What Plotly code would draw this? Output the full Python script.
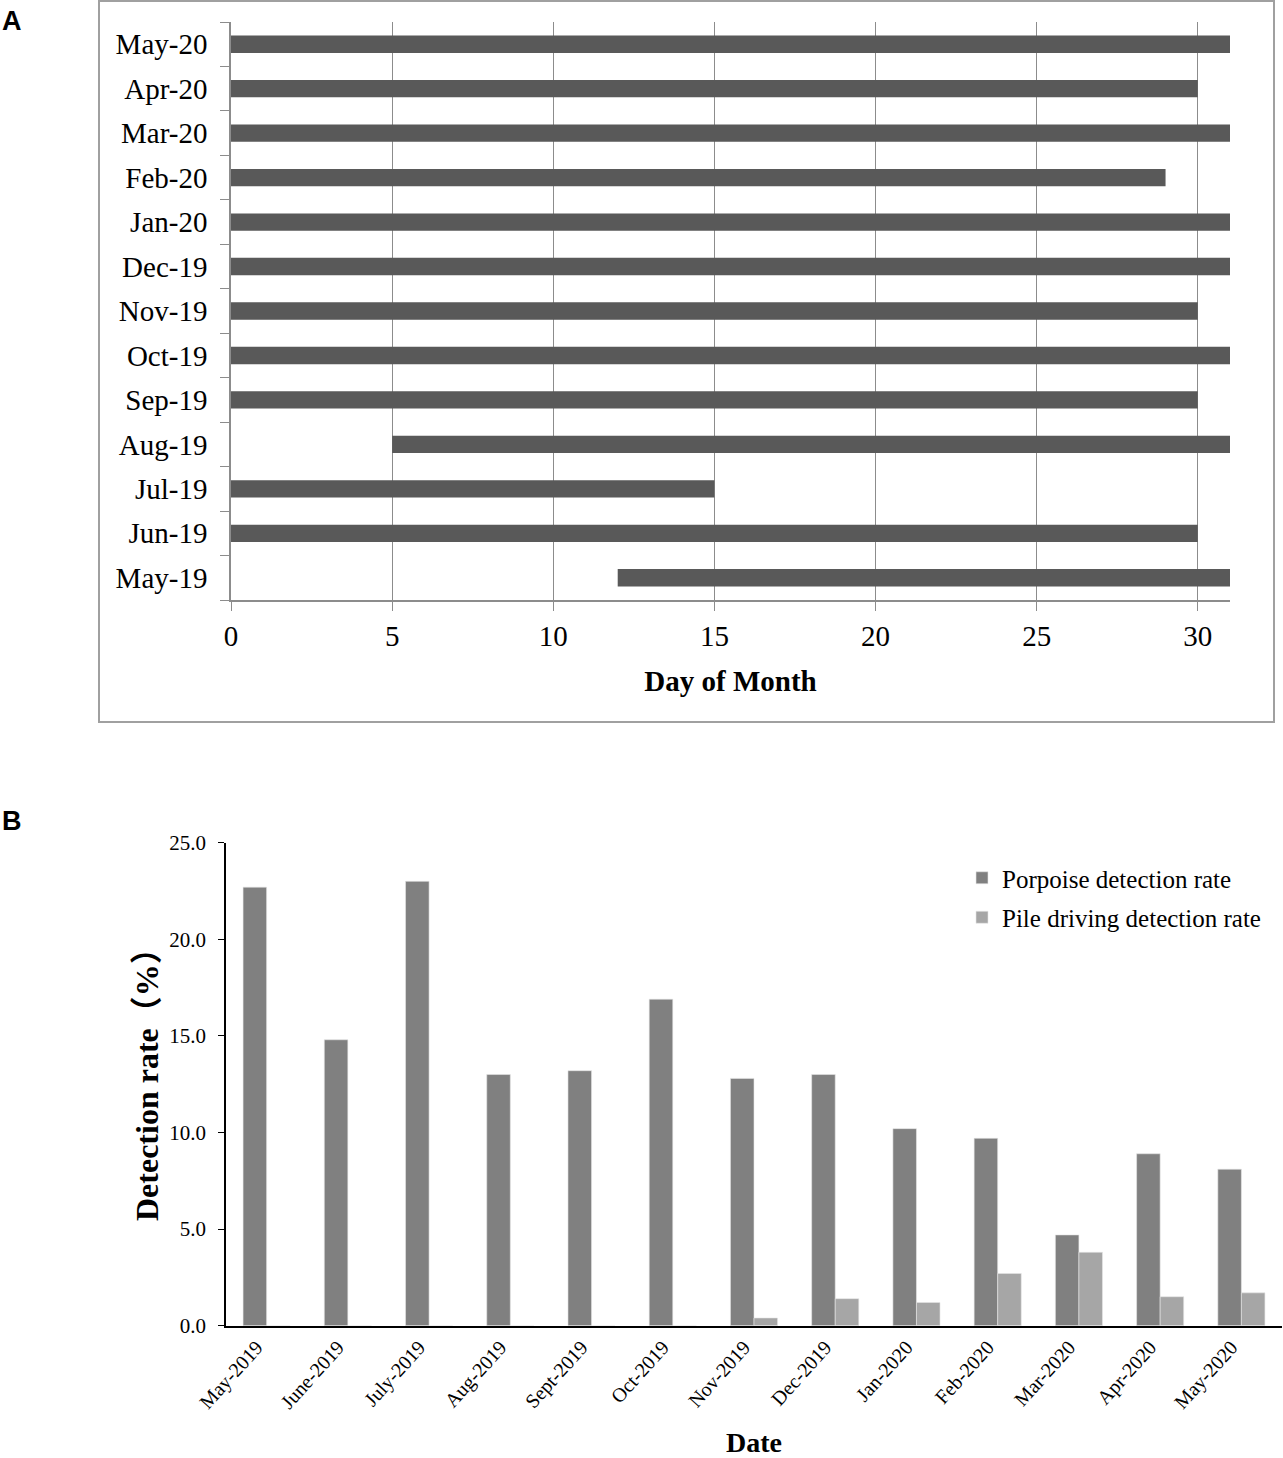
import plotly.graph_objects as go

# Panel A data
months_a = ["May-19", "Jun-19", "Jul-19", "Aug-19", "Sep-19", "Oct-19", "Nov-19",
            "Dec-19", "Jan-20", "Feb-20", "Mar-20", "Apr-20", "May-20"]
start_day = [12, 0, 0, 5, 0, 0, 0, 0, 0, 0, 0, 0, 0]
end_day = [31, 30, 15, 31, 30, 31, 30, 31, 31, 29, 31, 30, 31]
day_ticks = [0, 5, 10, 15, 20, 25, 30]

# Panel B data
months_b = ["May-2019", "June-2019", "July-2019", "Aug-2019", "Sept-2019", "Oct-2019",
            "Nov-2019", "Dec-2019", "Jan-2020", "Feb-2020", "Mar-2020", "Apr-2020", "May-2020"]
porpoise_rate = [22.7, 14.8, 23.0, 13.0, 13.2, 16.9, 12.8, 13.0, 10.2, 9.7, 4.7, 8.9, 8.1]
pile_rate = [0, 0, 0, 0, 0, 0, 0.4, 1.4, 1.2, 2.7, 3.8, 1.5, 1.7]

FW, FH = 1283, 1458
SERIF = "Liberation Serif, Times New Roman, Noto Sans CJK SC, serif"

def px(x):
    return x / FW

def py(y):
    return (FH - y) / FH

fig = go.Figure()

fig.add_trace(go.Bar(
    y=months_a,
    x=[e - s for s, e in zip(start_day, end_day)],
    base=start_day,
    orientation="h",
    marker=dict(color="#595959", line=dict(width=0)),
    width=0.39,
    showlegend=False,
    xaxis="x", yaxis="y",
))

fig.add_trace(go.Bar(
    x=months_b, y=porpoise_rate, name="Porpoise detection rate",
    marker=dict(color="#808080", line=dict(color="#e6e6e6", width=0.6)),
    legendgroup="p", xaxis="x2", yaxis="y2",
))
fig.add_trace(go.Bar(
    x=months_b, y=pile_rate, name="Pile driving detection rate",
    marker=dict(color="#a6a6a6", line=dict(color="#e6e6e6", width=0.6)),
    legendgroup="d", xaxis="x2", yaxis="y2",
))

fig.update_layout(
    width=FW, height=FH,
    margin=dict(l=0, r=0, t=0, b=0, autoexpand=False),
    paper_bgcolor="white", plot_bgcolor="white",
    font=dict(family=SERIF, color="black"),
    barmode="group",
    bargap=0.42, bargroupgap=0,
    xaxis=dict(
        domain=[px(231), px(1230)], anchor="y", automargin=False,
        range=[0, 31], tickvals=day_ticks,
        showgrid=True, gridcolor="#8c8c8c", gridwidth=1.3,
        showline=True, linecolor="#8c8c8c", linewidth=1.5,
        ticks="outside", ticklen=9, tickcolor="#8c8c8c", tickwidth=1.3,
        tickfont=dict(size=29, family=SERIF), zeroline=False,
        title=dict(text="<b>Day of Month</b>", font=dict(size=29, family=SERIF), standoff=20),
    ),
    yaxis=dict(
        domain=[py(600), py(22)], anchor="x", automargin=False,
        type="category", categoryorder="array", categoryarray=months_a,
        range=[-0.5, 12.5],
        showline=True, linecolor="#8c8c8c", linewidth=1.5,
        ticks="outside", tickson="boundaries", ticklen=9, tickcolor="#8c8c8c", tickwidth=1.3,
        ticklabelstandoff=16,
        tickfont=dict(size=29, family=SERIF), showgrid=False,
    ),
    xaxis2=dict(
        domain=[px(226), px(1282)], anchor="y2", automargin=False,
        type="category", range=[-0.5, 12.5],
        showline=True, linecolor="black", linewidth=2,
        ticks="", tickangle=-48, ticklabelshift=-10,
        tickfont=dict(size=20, family=SERIF), showgrid=False,
        title=dict(text="<b>Date</b>", font=dict(size=28, family=SERIF), standoff=22),
    ),
    yaxis2=dict(
        domain=[py(1325.7), py(842.7)], anchor="x2", automargin=False,
        range=[0, 25], dtick=5, tickformat=".1f",
        showline=True, linecolor="black", linewidth=1.5,
        ticks="outside", ticklen=6, tickcolor="black",
        ticklabelstandoff=8,
        tickfont=dict(size=21, family=SERIF), showgrid=False, zeroline=False,
    ),
    legend=dict(
        x=px(962), y=py(855), xanchor="left", yanchor="top",
        font=dict(size=25, family=SERIF), bgcolor="rgba(0,0,0,0)",
        tracegroupgap=4, itemwidth=30,
    ),
    shapes=[dict(type="rect", xref="paper", yref="paper",
                 x0=px(99), x1=px(1274), y0=py(722), y1=py(1),
                 line=dict(color="#a0a0a0", width=2), fillcolor="rgba(0,0,0,0)")],
    annotations=[
        dict(text="<b>A</b>", x=0, y=py(4), xref="paper", yref="paper",
             xanchor="left", yanchor="top", showarrow=False,
             font=dict(size=27, family="Liberation Sans, Arial, sans-serif")),
        dict(text="<b>B</b>", x=0, y=py(804), xref="paper", yref="paper",
             xanchor="left", yanchor="top", showarrow=False,
             font=dict(size=27, family="Liberation Sans, Arial, sans-serif")),
        dict(text="<b>Detection rate（%）</b>", x=px(147), y=py(1077),
             xref="paper", yref="paper", xanchor="center", yanchor="middle",
             textangle=-90, showarrow=False,
             font=dict(size=32, family=SERIF)),
    ],
)

fig.write_html(
    "out.html",
    config={"displayModeBar": False},
    post_script="document.body.style.margin='0';document.body.style.overflow='hidden';",
)
